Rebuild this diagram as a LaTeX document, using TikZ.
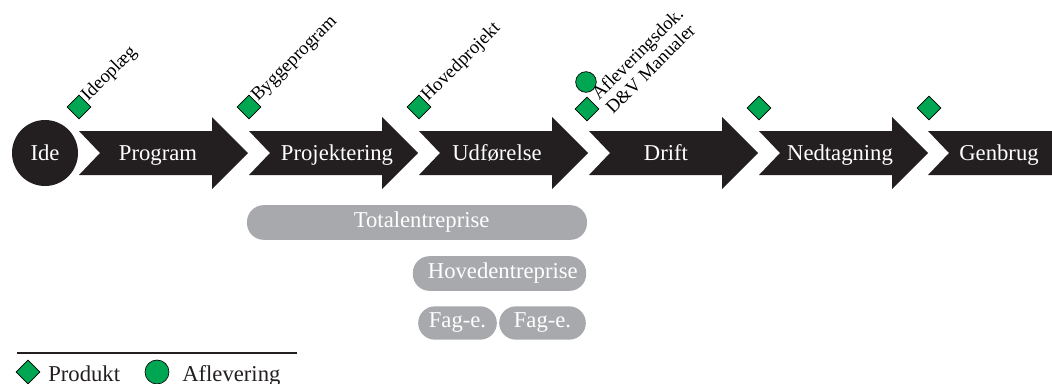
\documentclass[tikz,border=0pt]{standalone}
\usepackage{fontspec}
\setmainfont{Liberation Serif}
\usetikzlibrary{shapes.geometric}
\definecolor{stageblack}{HTML}{231F20}
\definecolor{prodgreen}{HTML}{00A651}
\definecolor{bargray}{HTML}{A7A9AC}
\begin{document}
\begin{tikzpicture}[x=0.75pt,y=-0.75pt,
  stagearrow/.style={fill=stageblack},
  stagelabel/.style={text=white, font=\fontsize{17}{20}\selectfont, anchor=base, inner sep=0pt},
  produkt/.style={diamond, draw=black, line width=0.5pt, fill=prodgreen, minimum size=18pt, inner sep=0pt},
  aflev/.style={circle, draw=black, line width=0.5pt, fill=prodgreen, minimum size=15.5pt, inner sep=0pt},
  doclabel/.style={rotate=45, anchor=base west, inner sep=0pt, font=\fontsize{14}{15}\selectfont},
  contract/.style={fill=bargray, rounded corners=12.5pt, minimum height=26pt, inner sep=0pt,
    text=white, font=\fontsize{17}{20}\selectfont},
  legendtext/.style={anchor=base west, inner sep=0pt, text=stageblack, font=\fontsize{17}{20}\selectfont}
]
\useasboundingbox (0,0) rectangle (1052,383);

% start of the process
\node[circle, fill=stageblack, minimum size=49.5pt, inner sep=0pt, text=white,
      font=\fontsize{17}{20}\selectfont] (ide) at (45,153) {Ide};

% phase arrows
\foreach \x in {79,249,419,589,759}
  \fill[stagearrow] (\x,131) -- (\x+133,131) -- (\x+133,117) -- (\x+169,153)
    -- (\x+133,189) -- (\x+133,175) -- (\x,175) -- (\x+21,153) -- cycle;
\fill[stagearrow] (928,131) -- (1052,131) -- (1052,175) -- (928,175) -- (949,153) -- cycle;

% phase names
\node[stagelabel] (program) at (158,160) {Program};
\node[stagelabel] (projektering) at (337,160) {Projektering};
\node[stagelabel] (udfoerelse) at (497,160) {Udførelse};
\node[stagelabel] (drift) at (666,160) {Drift};
\node[stagelabel] (nedtagning) at (840,160) {Nedtagning};
\node[stagelabel] (genbrug) at (999,160) {Genbrug};

% products delivered at each transition
\node[produkt] (p1) at (79,107) {};
\node[produkt] (p2) at (249,107) {};
\node[produkt] (p3) at (419,107) {};
\node[produkt] (p4) at (587,109) {};
\node[aflev] (a4) at (586,82) {};
\node[produkt] (p5) at (759,108) {};
\node[produkt] (p6) at (929,108) {};

\node[doclabel] (d1) at (88,102) {Ideoplæg};
\node[doclabel] (d2) at (258,102) {Byggeprogram};
\node[doclabel] (d3) at (428,102) {Hovedprojekt};
% two-line label: the base anchor sits on the last line
\node[doclabel, align=left] (d4) at (613,115) {Afleveringsdok.\\D\&V Manualer};

% contract forms
\node[contract, minimum width=255pt] (total) at (417,222.5) {\hspace*{7pt}Totalentreprise};
\node[contract, minimum width=130pt] (hoved) at (499.5,273.5) {\hspace*{5pt}Hovedentreprise};
\node[contract, minimum width=59pt, minimum height=25pt] (fag1) at (457.5,323) {Fag-e.};
\node[contract, minimum width=65pt, minimum height=25pt] (fag2) at (542.5,323) {Fag-e.};

% legend
\coordinate (rulestart) at (17,353);
\coordinate (ruleend) at (297,353);
\draw[line width=2.2pt, stageblack] (rulestart) -- (ruleend);
\node[produkt] (lp) at (28,372) {};
\node[legendtext] (lpt) at (48,381) {Produkt};
\node[aflev, minimum size=18pt] (la) at (157,372) {};
\node[legendtext] (lat) at (182,381) {Aflevering};
\end{tikzpicture}
\end{document}
